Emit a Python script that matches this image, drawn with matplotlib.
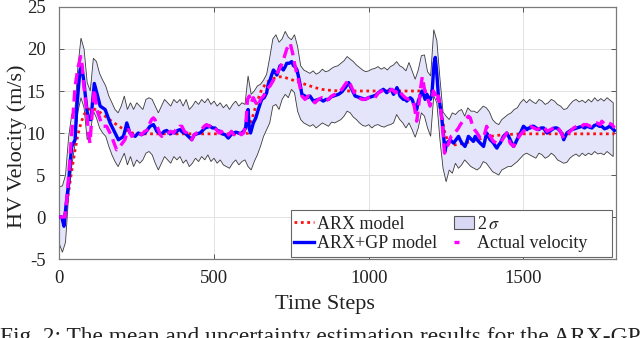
import numpy as np
import matplotlib
matplotlib.use("Agg")
import matplotlib.pyplot as plt
from matplotlib.patches import Patch, Rectangle
from matplotlib.lines import Line2D

plt.rcParams['font.family'] = ['Liberation Serif', 'DejaVu Serif']
plt.rcParams['mathtext.fontset'] = 'stix'
plt.rcParams['axes.unicode_minus'] = False

# ---------------- data ----------------
# 2-sigma band (time steps every 10)
t_band = list(range(0, 1800, 10))
band_upper = [3.6, 3.7, 5.0, 9.5, 12.2, 12.5, 17.9, 21.3, 20.0, 16.0,
              15.0, 18.9, 18.5, 17.1, 16.3, 15.6, 14.4, 13.6, 12.8, 12.4,
              13.2, 14.4, 12.8, 13.6, 12.8, 13.6, 13.2, 12.8, 14.0, 14.2,
              14.0, 13.2, 12.4, 13.2, 14.0, 13.6, 13.2, 14.0, 13.6, 14.0,
              13.2, 14.0, 12.8, 13.2, 13.8, 13.4, 14.0, 13.6, 14.1, 13.4,
              13.8, 13.2, 13.6, 13.0, 13.4, 12.8, 13.4, 13.8, 13.2, 13.6,
              13.4, 16.8, 14.6, 15.0, 15.6, 15.8, 16.3, 17.0, 19.0, 21.2,
              21.7, 20.8, 21.2, 22.1, 21.4, 21.1, 21.7, 20.3, 18.0, 17.5,
              17.3, 17.1, 17.4, 17.0, 17.2, 17.6, 17.3, 17.4, 17.7, 17.9,
              18.0, 18.3, 18.6, 19.1, 18.8, 18.5, 18.1, 17.8, 17.5, 17.3,
              17.4, 17.6, 17.7, 17.9, 17.6, 17.8, 17.5, 17.9, 18.1, 18.5,
              18.0, 17.8, 17.4, 18.4, 17.4, 16.4, 17.5, 19.2, 19.3, 17.3,
              16.8, 22.3, 21.0, 16.5, 12.5, 12.0, 11.6, 12.4, 12.2, 12.6,
              12.8, 12.0, 13.0, 12.6, 12.6, 12.4, 12.8, 13.2, 13.0, 12.5,
              11.6, 11.2, 11.0, 11.6, 11.9, 12.2, 12.4, 12.8, 13.0, 13.6,
              14.0, 13.6, 14.0, 13.7, 13.5, 14.0, 13.8, 13.4, 13.6, 14.0,
              13.8, 13.4, 13.2, 12.8, 12.9, 13.4, 13.8, 14.0, 13.7, 13.9,
              13.6, 14.0, 13.7, 14.2, 13.8, 14.1, 13.8, 14.2, 13.9, 13.6]
band_lower = [-3.2, -4.2, -3.0, 2.5, 6.0, 8.5, 12.5, 14.2, 13.0, 9.2,
              10.0, 12.6, 11.8, 10.6, 10.0, 9.6, 8.4, 7.4, 6.6, 6.0,
              6.8, 7.6, 6.2, 7.2, 6.0, 6.8, 6.4, 6.8, 7.6, 7.8,
              7.4, 6.4, 5.6, 6.4, 7.2, 6.8, 6.4, 7.2, 6.8, 7.2,
              6.4, 6.8, 6.0, 6.4, 7.0, 6.6, 7.2, 6.8, 7.4, 6.6,
              7.0, 6.4, 6.8, 6.2, 6.0, 5.8, 6.4, 6.8, 6.2, 6.6,
              6.8, 6.0, 5.6, 6.6, 7.4, 8.4, 9.6, 10.4, 11.2, 13.2,
              13.4, 12.8, 14.0, 14.6, 14.2, 15.2, 14.8, 12.6, 11.6, 11.2,
              11.0, 10.8, 11.0, 10.6, 10.9, 11.2, 11.0, 10.8, 11.3, 11.2,
              11.4, 11.6, 12.0, 12.6, 12.4, 11.9, 11.6, 11.2, 10.9, 10.8,
              11.0, 10.6, 10.9, 11.0, 10.8, 10.7, 10.9, 11.0, 11.2, 12.2,
              11.6, 11.2, 10.6, 11.2, 10.4, 9.5, 10.6, 12.4, 12.0, 10.6,
              9.6, 14.4, 13.6, 9.2, 5.8, 4.2, 5.6, 5.2, 6.4, 5.8,
              6.2, 6.8, 6.4, 6.0, 5.8, 5.6, 5.9, 6.6, 6.4, 5.9,
              5.4, 5.2, 5.0, 5.6, 5.8, 6.0, 6.0, 6.3, 6.6, 7.0,
              7.4, 7.6, 7.4, 7.2, 7.0, 7.6, 7.4, 7.0, 7.2, 7.6,
              7.3, 6.8, 6.6, 6.4, 6.5, 7.0, 7.3, 7.5, 7.2, 7.6,
              7.3, 7.6, 7.4, 7.8, 7.5, 7.6, 7.4, 7.8, 7.5, 7.2]

# ARX model (red dotted)
t_arx = [0, 13, 20, 30, 40, 50, 60, 70, 80, 90, 105, 115, 126, 137, 148,
         158, 169, 185, 201, 217, 234, 260, 300, 400, 500, 600, 611, 617,
         622, 630, 638, 646, 654, 662, 670, 681, 692, 703, 714, 730, 746,
         762, 778, 794, 810, 827, 848, 870, 908, 1000, 1100, 1200, 1215,
         1225, 1236, 1246, 1258, 1268, 1280, 1295, 1311, 1330, 1350, 1380,
         1410, 1440, 1490, 1550, 1650, 1794]
v_arx = [0.0, 0.0, 0.5, 3.0, 5.5, 7.8, 9.8, 11.2, 12.2, 12.7, 13.0, 12.8,
         12.6, 12.3, 12.0, 11.7, 11.4, 11.0, 10.6, 10.3, 10.0, 9.9, 9.9,
         9.9, 9.9, 9.9, 10.0, 11.0, 11.6, 12.6, 13.6, 14.4, 15.2, 15.6,
         16.0, 16.3, 16.5, 16.6, 16.7, 16.6, 16.4, 16.2, 16.0, 15.8, 15.6,
         15.4, 15.2, 15.1, 15.0, 15.0, 15.0, 15.0, 14.9, 14.0, 12.0, 10.0,
         8.8, 8.6, 8.6, 8.7, 8.8, 9.0, 9.2, 9.5, 9.7, 9.8, 9.9, 9.9, 9.9,
         9.9]

# ARX+GP model (blue)
t_gp = [0, 8, 15, 22, 29, 35, 40, 51, 56, 62, 67, 72, 78, 83, 90, 94, 102,
        108, 113, 121, 132, 140, 148, 156, 164, 172, 180, 191, 200, 207,
        213, 218, 223, 228, 236, 245, 255, 265, 277, 285, 293, 304, 310,
        315, 323, 331, 339, 347, 358, 366, 374, 382, 390, 398, 406, 417,
        428, 436, 444, 455, 463, 471, 479, 487, 495, 503, 511, 519, 527,
        536, 546, 555, 563, 571, 579, 587, 595, 602, 606, 610, 614, 618,
        627, 635, 643, 654, 662, 670, 675, 681, 687, 692, 698, 703, 708,
        713, 719, 724, 730, 735, 743, 751, 757, 762, 768, 773, 779, 784,
        794, 802, 810, 821, 829, 837, 845, 853, 862, 870, 878, 886, 894,
        902, 913, 924, 935, 945, 956, 964, 972, 980, 988, 999, 1007, 1015,
        1023, 1031, 1039, 1047, 1053, 1058, 1064, 1069, 1075, 1080, 1086,
        1091, 1096, 1101, 1112, 1118, 1123, 1128, 1134, 1140, 1144, 1150,
        1155, 1160, 1166, 1172, 1177, 1182, 1188, 1193, 1199, 1204, 1211,
        1215, 1220, 1225, 1230, 1234, 1241, 1246, 1252, 1258, 1263, 1268,
        1274, 1282, 1290, 1295, 1301, 1306, 1311, 1317, 1322, 1330, 1338,
        1344, 1350, 1360, 1371, 1376, 1381, 1387, 1392, 1398, 1403, 1408,
        1414, 1420, 1425, 1430, 1435, 1441, 1446, 1452, 1457, 1462, 1468,
        1474, 1479, 1484, 1490, 1495, 1500, 1506, 1511, 1517, 1522, 1528,
        1533, 1541, 1549, 1557, 1565, 1570, 1576, 1584, 1592, 1600, 1608,
        1614, 1619, 1625, 1630, 1635, 1640, 1648, 1656, 1664, 1673, 1681,
        1689, 1697, 1705, 1713, 1721, 1729, 1737, 1745, 1753, 1762, 1770,
        1778, 1786, 1794]
v_gp = [0.0, 0.0, -1.1, 1.5, 3.7, 6.5, 8.4, 9.2, 12.8, 15.5, 17.5, 17.9,
        16.5, 14.8, 12.5, 11.6, 11.6, 14.0, 15.9, 14.8, 13.2, 13.0, 12.8,
        12.0, 11.2, 10.6, 10.0, 9.2, 9.4, 9.6, 10.4, 11.2, 10.6, 10.0, 9.8,
        9.6, 10.0, 9.8, 10.0, 10.4, 10.8, 11.0, 10.6, 10.2, 10.0, 9.9,
        10.2, 10.3, 9.9, 10.1, 10.0, 10.3, 10.4, 10.1, 10.0, 9.6, 9.2, 9.8,
        9.9, 10.0, 10.3, 10.6, 10.7, 10.8, 10.6, 10.6, 10.3, 10.2, 9.9,
        9.8, 9.4, 9.8, 10.0, 10.1, 10.0, 9.9, 10.2, 10.6, 12.0, 12.8, 10.5,
        10.0, 11.2, 11.8, 12.8, 14.0, 14.2, 14.8, 15.8, 16.3, 17.0, 17.5,
        17.2, 16.9, 17.4, 18.0, 17.7, 17.5, 17.9, 18.3, 18.3, 18.5, 18.0,
        17.9, 17.5, 16.7, 15.6, 14.6, 14.4, 14.2, 14.4, 13.8, 13.9, 14.0,
        14.0, 13.8, 14.0, 14.0, 14.3, 14.4, 14.5, 14.6, 14.9, 15.4, 16.0,
        15.2, 14.4, 14.3, 14.2, 14.1, 14.0, 14.2, 14.3, 14.4, 14.5, 14.8,
        15.0, 15.2, 15.0, 14.8, 15.0, 15.2, 15.0, 14.6, 15.0, 15.4, 15.0,
        14.4, 14.0, 14.0, 13.8, 14.0, 14.2, 14.0, 13.6, 13.2, 12.8, 13.8,
        14.4, 15.0, 14.6, 14.0, 14.6, 14.2, 14.0, 14.6, 18.3, 19.0, 17.0,
        14.4, 13.4, 12.4, 10.0, 7.8, 8.8, 9.0, 9.2, 9.0, 8.8, 9.2, 9.6,
        9.2, 8.8, 8.6, 8.4, 9.0, 9.6, 9.3, 9.0, 9.6, 9.2, 8.8, 8.4, 9.2,
        10.0, 9.6, 9.2, 9.0, 8.8, 8.5, 8.2, 8.6, 8.8, 9.2, 9.6, 9.8, 10.0,
        9.6, 9.2, 8.8, 8.4, 8.8, 9.2, 9.6, 10.0, 10.4, 10.8, 10.6, 10.4,
        10.6, 10.6, 10.8, 10.8, 10.6, 10.4, 10.6, 10.6, 10.3, 10.0, 10.2,
        10.4, 10.6, 10.6, 10.4, 10.2, 9.8, 9.2, 9.6, 10.0, 10.2, 10.4,
        10.5, 10.6, 10.7, 10.8, 10.6, 10.8, 10.7, 10.6, 10.9, 11.0, 10.8,
        10.8, 10.5, 10.6, 10.8, 10.6, 10.3]

# Actual velocity (magenta dashed)
t_act = [0, 18, 24, 34, 42, 51, 61, 69, 74, 78, 88, 94, 99, 107, 113, 121,
         132, 142, 153, 161, 169, 177, 185, 196, 204, 212, 218, 223, 229,
         234, 242, 250, 258, 266, 276, 288, 293, 298, 304, 309, 314, 320,
         326, 331, 341, 352, 360, 369, 377, 385, 390, 396, 404, 412, 420,
         428, 436, 444, 452, 460, 468, 476, 484, 492, 500, 508, 516, 524,
         532, 540, 548, 556, 564, 572, 580, 588, 596, 603, 608, 614, 620,
         627, 635, 643, 650, 660, 670, 681, 692, 703, 714, 724, 735, 746,
         754, 762, 773, 784, 794, 804, 815, 826, 837, 848, 858, 870, 880,
         890, 902, 913, 924, 935, 945, 956, 967, 978, 988, 999, 1010, 1020,
         1031, 1042, 1053, 1064, 1075, 1086, 1096, 1107, 1118, 1128, 1139,
         1147, 1155, 1162, 1168, 1173, 1180, 1188, 1198, 1204, 1209, 1215,
         1220, 1225, 1234, 1240, 1245, 1252, 1258, 1266, 1274, 1282, 1290,
         1296, 1304, 1311, 1317, 1322, 1328, 1336, 1342, 1350, 1360, 1371,
         1381, 1387, 1392, 1403, 1414, 1425, 1435, 1446, 1457, 1462, 1468,
         1479, 1490, 1500, 1511, 1522, 1533, 1544, 1555, 1565, 1576, 1587,
         1597, 1608, 1619, 1630, 1640, 1651, 1662, 1673, 1684, 1694, 1705,
         1716, 1727, 1737, 1748, 1753, 1764, 1775, 1786, 1794]
v_act = [0.0, 0.0, 2.0, 6.8, 11.0, 15.6, 17.9, 19.1, 18.0, 16.0, 12.8,
         10.0, 8.8, 12.8, 15.2, 12.8, 11.6, 10.8, 10.8, 10.2, 9.6, 8.8, 8.0,
         8.4, 8.8, 9.2, 10.0, 10.4, 10.0, 9.6, 10.0, 10.0, 10.0, 9.8, 10.2,
         10.4, 11.2, 11.6, 11.8, 11.6, 11.0, 10.4, 9.8, 9.6, 10.0, 10.0,
         10.2, 10.0, 10.4, 10.4, 10.8, 10.8, 10.2, 10.0, 9.6, 9.2, 9.8,
         10.0, 10.2, 10.4, 10.8, 11.0, 10.8, 11.0, 10.6, 10.4, 10.0, 10.2,
         9.8, 9.6, 9.8, 10.2, 9.8, 10.0, 10.2, 9.8, 10.0, 11.0, 14.0, 14.4,
         13.6, 14.2, 13.6, 13.2, 14.0, 14.4, 15.2, 15.6, 16.3, 17.1, 17.8,
         18.7, 20.0, 20.7, 19.5, 17.9, 16.3, 14.4, 14.0, 14.4, 14.0, 13.6,
         14.0, 14.2, 13.8, 14.0, 14.4, 14.6, 14.8, 15.2, 15.8, 16.3, 15.4,
         14.6, 14.2, 14.0, 14.0, 14.2, 14.4, 14.2, 14.8, 15.0, 15.2, 15.0,
         15.2, 14.8, 15.2, 14.6, 14.2, 14.0, 14.0, 13.2, 11.4, 13.5, 15.5,
         16.7, 15.2, 14.4, 13.2, 14.0, 15.0, 14.6, 13.8, 14.4, 12.4, 10.0,
         7.6, 8.2, 8.8, 9.6, 9.8, 10.2, 10.6, 11.0, 11.4, 11.6, 11.8, 12.0,
         11.8, 10.8, 10.4, 10.0, 9.4, 9.4, 10.8, 10.2, 9.6, 9.0, 8.8, 8.8,
         9.4, 10.0, 8.8, 8.6, 8.4, 9.2, 9.8, 10.2, 10.6, 10.8, 10.6, 10.4,
         10.6, 10.8, 10.2, 10.4, 10.6, 10.8, 10.2, 9.4, 9.8, 10.2, 10.6,
         10.8, 10.6, 11.0, 11.0, 10.8, 11.2, 11.2, 11.0, 11.4, 11.0, 11.2,
         11.0, 10.6]

x_ticks = [0, 500, 1000, 1500]
y_ticks = [-5, 0, 5, 10, 15, 20, 25]

# ---------------- plot ----------------
fig = plt.figure(figsize=(6.4, 3.38), dpi=100)
ax = fig.add_axes([0.0927, 0.2337, 0.8703, 0.7456])

band_fc = '#e4e4fa'
ax.fill(t_band + t_band[::-1], band_upper + band_lower[::-1],
        facecolor=band_fc, edgecolor='#3a3a3a', linewidth=0.6, zorder=1)

red_ls = (0, (1, 1.3))
mag_ls = (0, (3.4, 1.8))
ax.plot(t_arx, v_arx, color='#ff1010', linestyle=red_ls, linewidth=2.0,
        zorder=3)
ax.plot(t_gp, v_gp, color='#0000ff', linewidth=2.4, zorder=4)
ax.plot(t_act, v_act, color='#ff00ff', linestyle=mag_ls, linewidth=2.4,
        zorder=5)

ax.set_xlim(0, 1800)
ax.set_ylim(-5, 25)
ax.set_xticks(x_ticks)
ax.set_yticks(y_ticks)
ax.grid(True, color='#e3e3e3', linewidth=0.7, zorder=0)
ax.set_axisbelow(True)
ax.tick_params(direction='in', length=3.5, width=0.7, colors='#555555',
               labelcolor='#222222', labelsize=13.5, top=True, right=True)
ax.tick_params(axis='x', pad=8)
ax.tick_params(axis='y', pad=10)
for s in ax.spines.values():
    s.set_color('#7a7a7a')
    s.set_linewidth(0.9)

ax.set_xlabel('Time Steps', fontsize=16, color='#222222')
ax.set_ylabel('HV Velocity (m/s)', fontsize=16, color='#222222')
ax.xaxis.set_label_coords(0.477, -0.143)
ax.yaxis.set_label_coords(-0.058, 0.446)

# legend frame (white box) and entries
ax.add_patch(Rectangle((0.416, 0.008), 0.576, 0.186, transform=ax.transAxes,
                       facecolor='white', edgecolor='#666666', linewidth=0.8,
                       zorder=6))
handles = [
    Line2D([], [], color='#ff1010', linestyle=red_ls, linewidth=2.0),
    Line2D([], [], color='#0000ff', linewidth=2.4),
    Patch(facecolor='#d8d8f4', edgecolor='#555555', linewidth=0.8),
    Line2D([], [], color='#ff00ff', linestyle=(0, (1.5, 6)), linewidth=2.4),
]
labels = ['ARX model', 'ARX+GP model', '2$\\,\\sigma$', 'Actual velocity']
leg = ax.legend(handles, labels, ncol=2, loc='lower left',
                bbox_to_anchor=(0.413, 0.008), fontsize=13,
                frameon=False, handlelength=1.1, handletextpad=0.2,
                columnspacing=0.9, borderpad=0.25, labelspacing=0.15,
                borderaxespad=0)
leg.set_zorder(7)
for txt in leg.get_texts():
    txt.set_color('#222222')

fig.text(0.0, 1 - 327 / 338,
         'Fig. 2: The mean and uncertainty estimation results for the ARX-GP',
         fontsize=16.8, ha='left', va='top', color='#222222')

fig.savefig('out.png', dpi=100)
